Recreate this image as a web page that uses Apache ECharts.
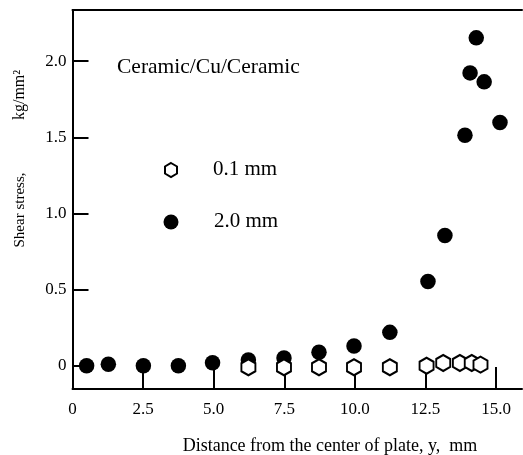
<!DOCTYPE html>
<html>
<head>
<meta charset="utf-8">
<script src="https://cdn.jsdelivr.net/npm/echarts@6/dist/echarts.min.js"></script>
<style>
  html, body { margin: 0; padding: 0; background: #fff; }
  #chart { width: 523px; height: 455px; }
</style>
</head>
<body>
<div id="chart"></div>
<script>
// Shear stress along the plate for two Cu interlayer thicknesses
const xTicks = [2.5, 5.0, 7.5, 10.0, 12.5, 15.0];
const xLabels = [0, 2.5, 5.0, 7.5, 10.0, 12.5, 15.0];
const yTicks = [0, 0.5, 1.0, 1.5, 2.0];

// 0.1 mm interlayer (hollow hexagons)
const thinX = [6.23, 7.49, 8.73, 9.97, 11.24, 12.54, 13.13, 13.72, 14.14, 14.45];
const thinY = [-0.01, -0.01, -0.01, -0.01, -0.01, 0.0, 0.018, 0.018, 0.018, 0.007];

// 2.0 mm interlayer (filled circles)
const thickX = [0.50, 1.27, 2.51, 3.75, 4.96, 6.23, 7.49, 8.73, 9.97, 11.24, 12.59, 13.19, 13.90, 14.08, 14.30, 14.58, 15.14];
const thickY = [0.0, 0.01, 0.0, 0.0, 0.02, 0.037, 0.05, 0.088, 0.13, 0.219, 0.553, 0.855, 1.513, 1.923, 2.153, 1.864, 1.597];

const serif = '"Liberation Serif", "DejaVu Serif", serif';
const hexagon = 'path://M0,-1 L0.866,-0.5 L0.866,0.5 L0,1 L-0.866,0.5 L-0.866,-0.5 Z';

const zip = (xs, ys) => xs.map((x, i) => [x, ys[i]]);

// pointy-top hexagon outline for the legend key
function hexPoints(cx, cy, w, h) {
  return [[0, -1], [1, -0.5], [1, 0.5], [0, 1], [-1, 0.5], [-1, -0.5]]
    .map(([a, b]) => [cx + a * w / 2, cy + b * h / 2]);
}

const chart = echarts.init(document.getElementById('chart'), null, { renderer: 'canvas' });

chart.setOption({
  animation: false,
  backgroundColor: '#fff',
  grid: { left: 72.5, right: 1, top: 10, bottom: 66, containLabel: false },
  xAxis: [{
    type: 'value',
    min: 0,
    max: 15.92,
    interval: 2.5,
    splitLine: { show: false },
    axisLine: { show: true, onZero: false, lineStyle: { color: '#000', width: 2 } },
    axisTick: { show: true, inside: true, length: 22, customValues: xTicks, lineStyle: { color: '#000', width: 2 } },
    axisLabel: {
      show: true, margin: 12, customValues: xLabels,
      color: '#000', fontFamily: serif, fontSize: 17,
      formatter: v => (v === 0 ? '0' : v.toFixed(1))
    }
  }, {
    type: 'value',
    position: 'top',
    min: 0,
    max: 15.92,
    splitLine: { show: false },
    axisLine: { show: true, onZero: false, lineStyle: { color: '#000', width: 2 } },
    axisTick: { show: false },
    axisLabel: { show: false }
  }],
  yAxis: {
    type: 'value',
    min: -0.153,
    max: 2.336,
    splitLine: { show: false },
    axisLine: { show: true, onZero: false, lineStyle: { color: '#000', width: 2 } },
    axisTick: { show: true, inside: true, length: 16, customValues: yTicks, lineStyle: { color: '#000', width: 2 } },
    axisLabel: {
      show: true, margin: 6, customValues: yTicks,
      color: '#000', fontFamily: serif, fontSize: 17,
      formatter: v => (v === 0 ? '0' : v.toFixed(1))
    }
  },
  series: [{
    name: '2.0 mm',
    type: 'scatter',
    symbol: 'circle',
    symbolSize: 15.5,
    itemStyle: { color: '#000', opacity: 1 },
    data: zip(thickX, thickY),
    z: 2
  }, {
    name: '0.1 mm',
    type: 'scatter',
    symbol: hexagon,
    symbolSize: [14, 16],
    itemStyle: { color: '#fff', borderColor: '#000', borderWidth: 2, opacity: 1 },
    data: zip(thinX, thinY),
    z: 3
  }],
  graphic: [
    { type: 'text', left: 117, top: 56, style: { text: 'Ceramic/Cu/Ceramic', fill: '#000', font: '21.5px ' + serif } },
    { type: 'polygon', shape: { points: hexPoints(171, 170, 12, 14) },
      style: { fill: '#fff', stroke: '#000', lineWidth: 2 } },
    { type: 'text', left: 213, top: 159, style: { text: '0.1 mm', fill: '#000', font: '21px ' + serif } },
    { type: 'circle', shape: { cx: 171, cy: 222, r: 7.5 }, style: { fill: '#000' } },
    { type: 'text', left: 214, top: 211, style: { text: '2.0 mm', fill: '#000', font: '21px ' + serif } },
    { type: 'text', x: 20, y: 210, rotation: Math.PI / 2,
      style: { text: 'Shear stress,', fill: '#000', font: '15px ' + serif, align: 'center', verticalAlign: 'middle' } },
    { type: 'text', x: 20, y: 95, rotation: Math.PI / 2,
      style: { text: 'kg/mm²', fill: '#000', font: '16px ' + serif, align: 'center', verticalAlign: 'middle' } },
    { type: 'text', x: 330, y: 446,
      style: { text: 'Distance from the center of plate, y,  mm', fill: '#000', font: '18px ' + serif, align: 'center', verticalAlign: 'middle' } }
  ]
});
</script>
</body>
</html>
